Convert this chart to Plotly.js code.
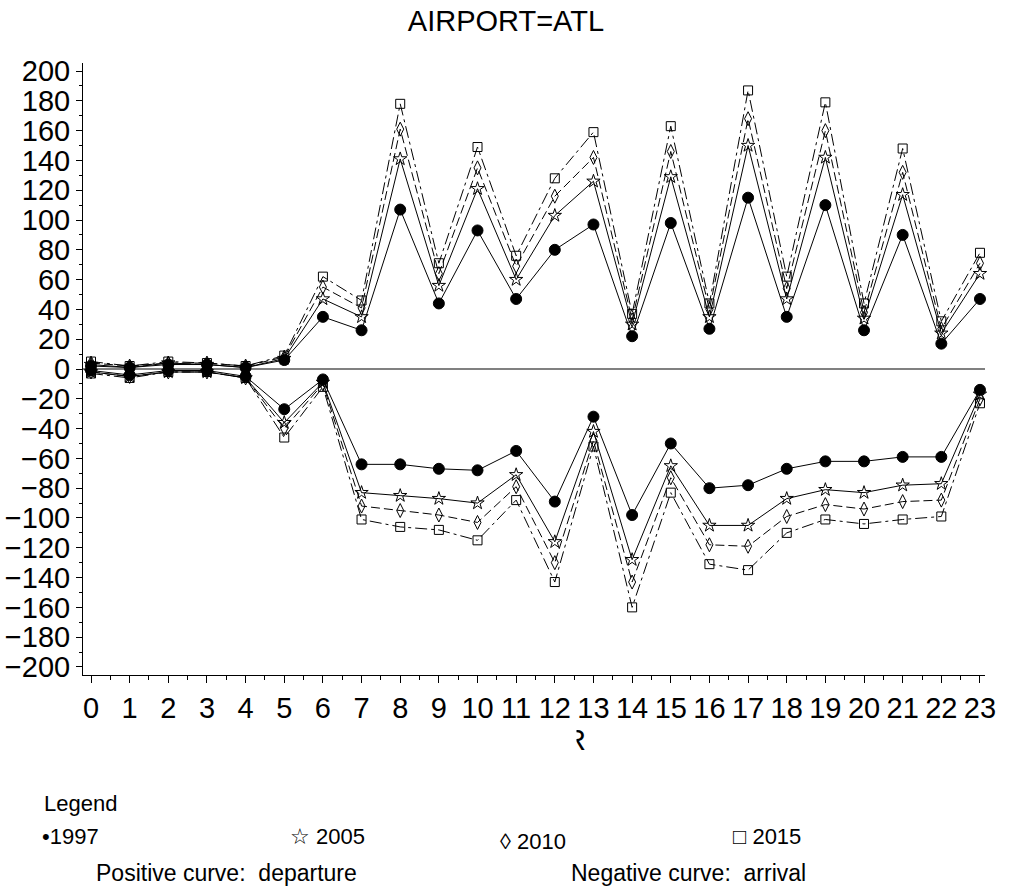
<!DOCTYPE html>
<html>
<head>
<meta charset="utf-8">
<script src="https://cdn.plot.ly/plotly-3.0.1.min.js"></script>
<style>
  html, body { margin: 0; padding: 0; background: #fff; }
  #chart { width: 1012px; height: 894px; }
</style>
</head>
<body>
<div id="chart"></div>
<script>
// ---- data ----
const hours = [0,1,2,3,4,5,6,7,8,9,10,11,12,13,14,15,16,17,18,19,20,21,22,23];
const xTickLabels = ["0","1","2","3","4","5","6","7","8","9","10","11","12","13","14","15","16","17","18","19","20","21","22","23"];

// departures (positive curves)
const dep1997 = [2, 1, 3, 3, 1, 6, 35, 26, 107, 44, 93, 47, 80, 97, 22, 98, 27, 115, 35, 110, 26, 90, 17, 47];
const dep2005 = [3, 1, 4, 3, 1, 7, 47, 35, 141, 56, 121, 60, 103, 126, 30, 129, 35, 150, 47, 142, 34, 117, 24, 64];
const dep2010 = [4, 2, 4, 4, 2, 8, 55, 41, 161, 64, 135, 69, 116, 142, 33, 146, 40, 168, 54, 160, 38, 132, 27, 71];
const dep2015 = [5, 2, 5, 4, 2, 9, 62, 46, 178, 71, 149, 76, 128, 159, 37, 163, 44, 187, 62, 179, 44, 148, 32, 78];

// arrivals (negative curves)
const arr1997 = [-1, -4, -1, -1, -5, -27, -7, -64, -64, -67, -68, -55, -89, -32, -98, -50, -80, -78, -67, -62, -62, -59, -59, -14];
const arr2005 = [-2, -5, -2, -2, -6, -36, -9, -83, -85, -87, -90, -71, -116, -42, -128, -65, -105, -105, -87, -81, -83, -78, -77, -17];
const arr2010 = [-2, -5, -2, -2, -6, -40, -10, -92, -95, -98, -103, -79, -130, -48, -143, -73, -118, -119, -99, -91, -94, -89, -88, -20];
const arr2015 = [-3, -6, -2, -2, -6, -46, -12, -101, -106, -108, -115, -88, -143, -52, -160, -83, -131, -135, -110, -101, -104, -101, -99, -23];

const titleText = "AIRPORT=ATL";
const legendTitle = "Legend";
const legendItems = ["\u20221997", "\u2606 2005", "\u25CA 2010", "\u25A1 2015"];
const noteDeparture = "Positive curve:\u00a0 departure";
const noteArrival = "Negative curve:\u00a0 arrival";
const xTitleFragment = "R";

// ---- styling ----
const FONT = "Liberation Sans, Arial, Helvetica, sans-serif";
const BLACK = "#000000";

const styles = {
  y1997: {line: {color: BLACK, width: 1, dash: "solid"},
          marker: {symbol: "circle", size: 11, color: BLACK, line: {color: BLACK, width: 1}}},
  y2005: {line: {color: BLACK, width: 1, dash: "solid"},
          marker: {symbol: "star-open", size: 10, color: BLACK, line: {color: BLACK, width: 1}}},
  y2010: {line: {color: BLACK, width: 1, dash: "9px,4px"},
          marker: {symbol: "diamond-tall-open", size: 10, color: BLACK, line: {color: BLACK, width: 1}}},
  y2015: {line: {color: BLACK, width: 1, dash: "12px,4px,3px,4px"},
          marker: {symbol: "square-open", size: 9, color: BLACK, line: {color: BLACK, width: 1}}}
};

function trace(y, st, name) {
  return {x: hours, y: y, type: "scatter", mode: "lines+markers", name: name,
          line: st.line, marker: st.marker, hoverinfo: "skip", cliponaxis: false};
}

const data = [
  trace(dep2015, styles.y2015, "2015 departure"),
  trace(dep2010, styles.y2010, "2010 departure"),
  trace(dep2005, styles.y2005, "2005 departure"),
  trace(dep1997, styles.y1997, "1997 departure"),
  trace(arr2015, styles.y2015, "2015 arrival"),
  trace(arr2010, styles.y2010, "2010 arrival"),
  trace(arr2005, styles.y2005, "2005 arrival"),
  trace(arr1997, styles.y1997, "1997 arrival")
];

// plot area geometry (pixels)
const W = 1012, H = 894;
const M = {l: 83, r: 27, t: 63, b: 219};
const plotW = W - M.l - M.r, plotH = H - M.t - M.b;
function px(x) { return (x - M.l) / plotW; }
function py(y) { return (H - M.b - y) / plotH; }

function note(text, xLeft, yMid, size) {
  return {xref: "paper", yref: "paper", x: px(xLeft), y: py(yMid),
          xanchor: "left", yanchor: "middle", showarrow: false, text: text,
          font: {family: FONT, size: size, color: BLACK}};
}

const annotations = [
  note(legendTitle, 42, 803, 22),
  note(legendItems[0], 40, 836, 22),
  note(legendItems[1], 288, 836, 22),
  note(legendItems[2], 498, 841, 22),
  note(legendItems[3], 731, 836, 22),
  note(noteDeparture, 94, 873, 23),
  note(noteArrival, 569, 873, 23),
  // clipped x-axis title fragment
  {xref: "paper", yref: "paper", x: px(575), y: py(740), xanchor: "center", yanchor: "middle",
   showarrow: false, text: xTitleFragment, font: {family: FONT, size: 29, color: BLACK}},
  {xref: "paper", yref: "paper", x: px(558), y: py(740), xanchor: "left", yanchor: "middle",
   showarrow: false, text: "\u00a0", width: 17, height: 36, bgcolor: "#ffffff", borderpad: 0,
   font: {family: FONT, size: 10, color: BLACK}}
];

const layout = {
  width: W, height: H,
  margin: M,
  paper_bgcolor: "#ffffff",
  plot_bgcolor: "#ffffff",
  showlegend: false,
  hovermode: false,
  font: {family: FONT, color: BLACK},
  title: {text: titleText, font: {family: FONT, size: 29, color: BLACK},
          x: 0.5, xref: "container", xanchor: "center",
          y: 1 - 21 / H, yref: "container", yanchor: "middle"},
  xaxis: {
    range: [-0.207, 23.13],
    tickmode: "array", tickvals: hours, ticktext: xTickLabels,
    tickangle: 0,
    ticks: "outside", ticklen: 7, tickwidth: 1, tickcolor: BLACK,
    minor: {ticks: "outside", ticklen: 4, tickwidth: 1, tickcolor: BLACK, dtick: 0.5, tick0: 0, showgrid: false},
    showline: true, linecolor: BLACK, linewidth: 1,
    showgrid: false, zeroline: false,
    tickfont: {family: FONT, size: 29, color: BLACK}
  },
  yaxis: {
    range: [-205.4, 205.4],
    tick0: 0, dtick: 20,
    ticks: "outside", ticklen: 6, tickwidth: 1, tickcolor: BLACK,
    minor: {ticks: "outside", ticklen: 3, tickwidth: 1, tickcolor: BLACK, dtick: 10, tick0: 0, showgrid: false},
    showline: true, linecolor: BLACK, linewidth: 1,
    showgrid: false,
    zeroline: true, zerolinecolor: "#808080", zerolinewidth: 2,
    tickfont: {family: FONT, size: 29, color: BLACK}
  },
  annotations: annotations
};

Plotly.newPlot("chart", data, layout, {staticPlot: true, displayModeBar: false});
</script>
</body>
</html>
